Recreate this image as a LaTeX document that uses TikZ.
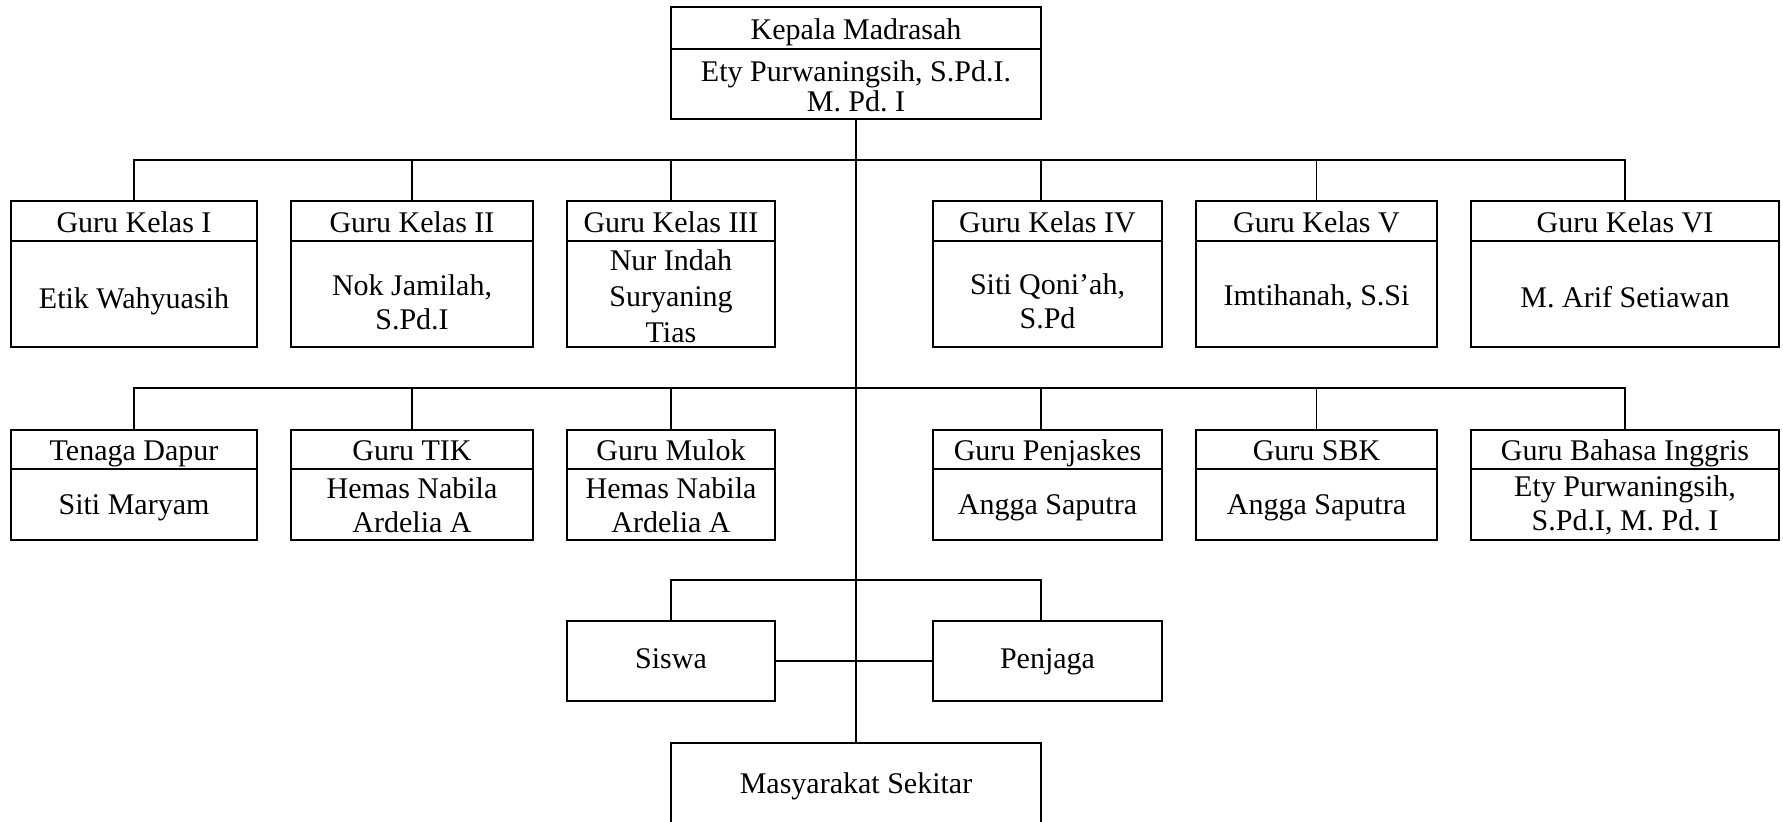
\documentclass[tikz,border=0pt]{standalone}
\usepackage{fontspec}
\setmainfont{Liberation Serif}
\frenchspacing
\tikzset{
  cell/.style={draw, line width=0.8pt, inner sep=0pt, outer sep=0pt},
  txt/.style={align=center, inner sep=0pt, font=\fontsize{15}{17}\selectfont\frenchspacing},
  sl/.style={text height=10.5pt, text depth=3.2pt},
  bus/.style={line width=1.2pt},
  conn/.style={line width=0.6pt},
  midline/.style={line width=0.8pt},
}
% name, x1, x2, ytop, ydiv, ybot, title, body, body text offset
\newcommand\orgbox[9]{%
  \node[cell, minimum width={(#3-#2)*0.5pt}, minimum height={(#5-#4)*0.5pt}] (#1h) at ({(#2+#3)/2},{(#4+#5)/2}) {};
  \node[txt, sl] (#1ht) at ({(#2+#3)/2},{(#4+#5)/2+4}) {#7};
  \node[cell, minimum width={(#3-#2)*0.5pt}, minimum height={(#6-#5)*0.5pt}] (#1b) at ({(#2+#3)/2},{(#5+#6)/2}) {};
  \node[txt] (#1bt) at ({(#2+#3)/2},{(#5+#6)/2+#9}) {#8};
}
\begin{document}
\begin{tikzpicture}[x=0.5pt,y=-0.5pt]
\useasboundingbox (0,0) rectangle (1783,822);

% top
\orgbox{k}{671}{1041}{7}{49}{119}{Kepala Madrasah}{Ety Purwaningsih, S.Pd.I.\\[-2pt]M. Pd. I}{2}

% row 1
\orgbox{ga}{11}{257}{201}{241}{347}{Guru Kelas I}{Etik Wahyuasih}{7}
\orgbox{gb}{291}{533}{201}{241}{347}{Guru Kelas II}{Nok Jamilah,\\S.Pd.I}{8}
\orgbox{gc}{567}{775}{201}{241}{347}{Guru Kelas III}{Nur Indah\\[1pt]Suryaning\\[1pt]Tias}{2}
\orgbox{gd}{933}{1162}{201}{241}{347}{Guru Kelas IV}{Siti Qoni’ah,\\S.Pd}{7}
\orgbox{ge}{1196}{1437}{201}{241}{347}{Guru Kelas V}{Imtihanah, S.Si}{3}
\orgbox{gf}{1471}{1779}{201}{241}{347}{Guru Kelas VI}{M. Arif Setiawan}{3}

% row 2
\orgbox{ta}{11}{257}{430}{469}{540}{Tenaga Dapur}{Siti Maryam}{3}
\orgbox{tb}{291}{533}{430}{469}{540}{Guru TIK}{Hemas Nabila\\Ardelia A}{1}
\orgbox{tc}{567}{775}{430}{469}{540}{Guru Mulok}{Hemas Nabila\\Ardelia A}{1}
\orgbox{td}{933}{1162}{430}{469}{540}{Guru Penjaskes}{Angga Saputra}{3}
\orgbox{te}{1196}{1437}{430}{469}{540}{Guru SBK}{Angga Saputra}{3}
\orgbox{tf}{1471}{1779}{430}{469}{540}{Guru Bahasa Inggris}{Ety Purwaningsih,\\S.Pd.I, M. Pd. I}{1}

% bottom
\node[cell, txt, sl, minimum width=104pt, minimum height=40pt] (siswa) at (671,661) {Siswa};
\node[cell, txt, sl, minimum width=114.5pt, minimum height=40pt] (penjaga) at (1047.5,661) {Penjaga};
\node[cell, txt, sl, minimum width=185pt, minimum height=43.5pt] (mas) at (856,786.5) {Masyarakat Sekitar};

% bus coordinates
\coordinate (bus1) at (856,160);
\coordinate (bus2) at (856,388);
\coordinate (bus3) at (856,580);

% center line
\draw[midline] (kb.south) -- (mas.north);

% bus 1
\draw[bus] (gah.north) -- (gah.north |- bus1) -- (gfh.north |- bus1) -- (gfh.north);
\draw[conn] (gbh.north) -- (gbh.north |- bus1);
\draw[conn] (gch.north) -- (gch.north |- bus1);
\draw[conn] (kb.south east |- bus1) -- (kb.south east |- gdh.north);
\draw[conn] (geh.north) -- (geh.north |- bus1);

% bus 2
\draw[bus] (tah.north) -- (tah.north |- bus2) -- (tfh.north |- bus2) -- (tfh.north);
\draw[conn] (tbh.north) -- (tbh.north |- bus2);
\draw[conn] (tch.north) -- (tch.north |- bus2);
\draw[conn] (kb.south east |- bus2) -- (kb.south east |- tdh.north);
\draw[conn] (teh.north) -- (teh.north |- bus2);

% bus 3
\draw[midline] (siswa.north) -- (siswa.north |- bus3) -- (bus3 -| kb.south east) -- (kb.south east |- penjaga.north);
\draw[midline] (siswa.east) -- (penjaga.west);
\end{tikzpicture}
\end{document}
